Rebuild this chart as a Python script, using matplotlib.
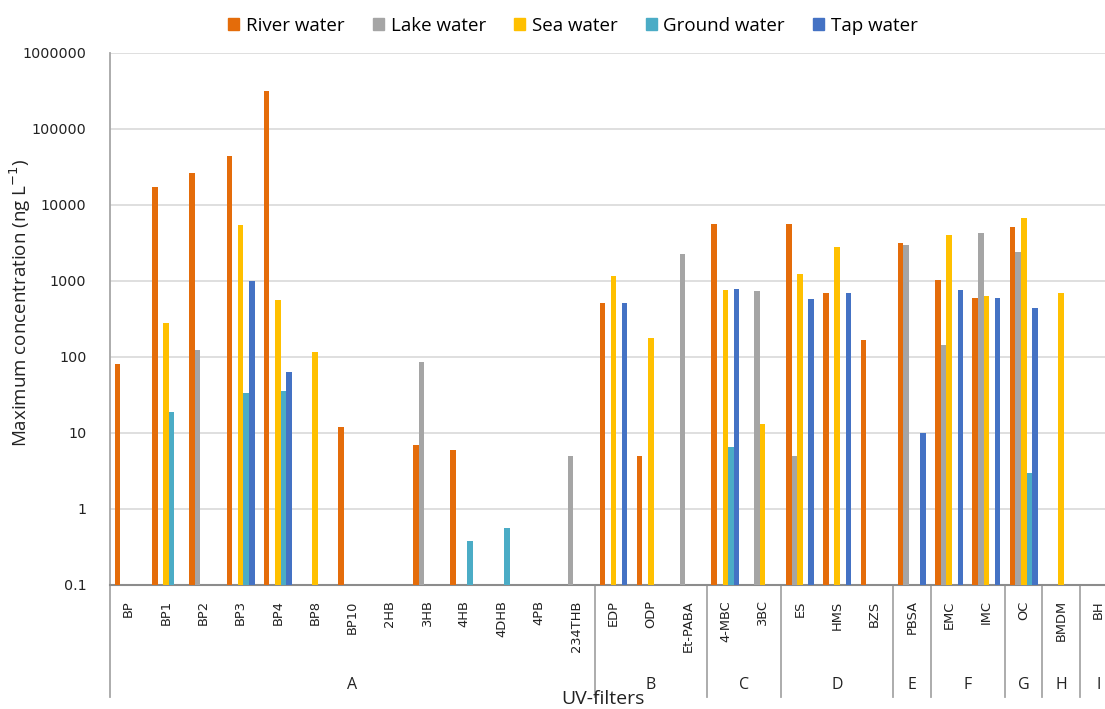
import numpy as np
import matplotlib
matplotlib.use('Agg')
import matplotlib.pyplot as plt
from matplotlib.patches import Patch

nan = np.nan

# UV-filters and their groups
filters = ['BP', 'BP1', 'BP2', 'BP3', 'BP4', 'BP8', 'BP10', '2HB', '3HB', '4HB',
           '4DHB', '4PB', '234THB', 'EDP', 'ODP', 'Et-PABA', '4-MBC', '3BC',
           'ES', 'HMS', 'BZS', 'PBSA', 'EMC', 'IMC', 'OC', 'BMDM', 'BH']
groups = ['A', 'B', 'C', 'D', 'E', 'F', 'G', 'H', 'I']
group_sizes = [13, 3, 2, 3, 1, 2, 1, 1, 1]

# maximum concentrations (ng/L)
river = [82, 17000, 26000, 44000, 320000, nan, 12, nan, 7, 6,
         nan, nan, nan, 520, 5, nan, 5700, nan,
         5600, 700, 166, 3200, 1030, 590, 5100, nan, nan]
lake = [nan, nan, 123, nan, nan, nan, nan, nan, 85, nan,
        nan, nan, 5, nan, nan, 2300, nan, 740,
        5, nan, nan, 3000, 145, 4300, 2400, nan, nan]
sea = [nan, 280, nan, 5400, 570, 115, nan, nan, nan, nan,
       nan, nan, nan, 1170, 180, nan, 750, 13,
       1220, 2800, nan, nan, 4000, 630, 6700, 700, nan]
ground = [nan, 19, nan, 34, 36, nan, nan, nan, nan, 0.38,
          0.57, nan, nan, nan, nan, nan, 6.6, nan,
          nan, nan, nan, nan, nan, nan, 3, nan, nan]
tap = [nan, nan, nan, 1000, 63, nan, nan, nan, nan, nan,
       nan, nan, nan, 520, nan, nan, 780, nan,
       580, 705, nan, 10, 760, 590, 435, nan, nan]

series = [('River water', river, '#E46C0A'),
          ('Lake water', lake, '#A5A5A5'),
          ('Sea water', sea, '#FFC000'),
          ('Ground water', ground, '#4BACC6'),
          ('Tap water', tap, '#4472C4')]

ytick_vals = [0.1, 1, 10, 100, 1000, 10000, 100000, 1000000]
ytick_labels = ['0.1', '1', '10', '100', '1000', '10000', '100000', '1000000']

W, H = 1105, 709
fig = plt.figure(figsize=(W / 100, H / 100), dpi=100)
# plot area: x 110..1117 px (clipped on the right), y 53..585 px
ax = fig.add_axes([110 / W, (H - 585) / H, 1007 / W, 532 / H])

x = np.arange(len(filters))
bw = 0.15
for i, (name, vals, col) in enumerate(series):
    ax.bar(x + (i - 2) * bw, vals, width=bw, color=col, label=name,
           linewidth=0, zorder=3)

ax.set_yscale('log')
ax.set_ylim(0.1, 1000000)
ax.set_xlim(-0.5, len(filters) - 0.5)
ax.set_yticks(ytick_vals)
ax.set_yticklabels(ytick_labels)
ax.yaxis.set_minor_locator(plt.NullLocator())
ax.grid(axis='y', color='#D9D9D9', linewidth=1.2, zorder=0)
ax.tick_params(axis='y', length=0, pad=17, labelsize=10.3, labelcolor='#222222')

ax.set_xticks(x)
ax.set_xticklabels(filters, rotation=90, fontsize=9.4, color='#222222')
ax.tick_params(axis='x', length=0, pad=11)

for s in ['top', 'right']:
    ax.spines[s].set_visible(False)
ax.spines['left'].set_color('#A6A6A6')
ax.spines['bottom'].set_color('#8C8C8C')
ax.spines['left'].set_linewidth(1.3)
ax.spines['bottom'].set_linewidth(1.5)

# group separators and group labels below the axis
trans = ax.get_xaxis_transform()
y_low = -(697 - 585) / 532
edges = np.concatenate([[0], np.cumsum(group_sizes)]) - 0.5
for e in edges:
    ax.plot([e, e], [0, y_low], transform=trans, color='#A6A6A6',
            linewidth=1.3, clip_on=False)
for g, a, b in zip(groups, edges[:-1], edges[1:]):
    ax.text((a + b) / 2, -(685 - 585) / 532, g, transform=trans,
            ha='center', va='center', fontsize=11.5, family='Open Sans',
            color='#222222')

fig.text(603 / W, (H - 699) / H, 'UV-filters', ha='center', va='center',
         fontsize=14, family='Open Sans', color='#222222')
fig.text(20 / W, (H - 303) / H, 'Maximum concentration (ng L$^{-1}$)',
         rotation=90, ha='center', va='center', fontsize=13.5,
         family='Open Sans', color='#222222')

handles = [Patch(color=c, label=n) for n, _, c in series]
fig.legend(handles=handles, loc='center', bbox_to_anchor=(573 / W, (H - 26) / H),
           ncol=5, frameon=False, prop={'family': 'Open Sans', 'size': 13.5},
           handlelength=0.6, handleheight=0.6, handletextpad=0.35,
           columnspacing=1.5)

fig.savefig('out.png', dpi=100)
